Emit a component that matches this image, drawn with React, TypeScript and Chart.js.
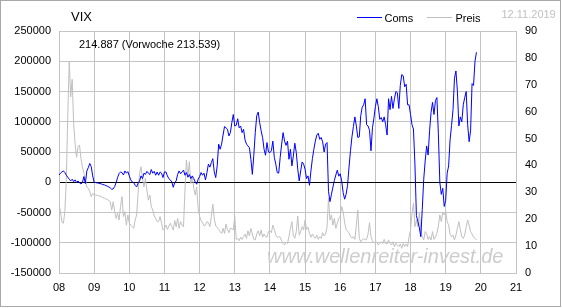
import React, { useEffect, useRef } from "react";
import { Chart, registerables } from "chart.js";

Chart.register(...registerables);

const FONT = '"Liberation Sans", Arial, sans-serif';

const years = [2008, 2009, 2010, 2011, 2012, 2013, 2014, 2015, 2016, 2017, 2018, 2019];
const stepsPerYear = 24;

const coms2008 = [11600, 14900, 17000, 18700, 16000, 11600, 8300, 5000, 2200, 5000, 1100, 3900, -500, 2200, -1100, -2800, -500, 9400, -2200, 18700, 24000, 31000, 26000, 10500];
const coms2009 = [0, -500, -1100, -1600, -2200, -2800, -3900, -4400, -5500, -6600, -7700, -9400, -11600, -11000, -7200, -500, 7700, 14300, 17000, 16000, 12000, 18700, 15000, 17600];
const coms2010 = [10500, 3900, 500, -500, -5000, -7700, -1600, 2200, 10500, 6000, 15000, 13000, 18000, 15000, 12700, 21000, 15000, 18000, 11600, 17000, 11600, 17000, 15000, 7700];
const coms2011 = [17000, 17000, 10500, 6000, 3900, 500, -8300, -500, 2200, 13000, 18700, 14000, 17000, 20000, 11600, 16000, 8300, 12700, 6000, 10500, 6000, 500, -3300, 5000];
const coms2012 = [9400, 16000, 11600, 15000, 3900, 16000, 30000, 25000, 32500, 39000, 17000, 7700, 27000, 63000, 54500, 63000, 78000, 92000, 90000, 87600, 76600, 82000, 98600, 112000];
const coms2013 = [93000, 94000, 105000, 90000, 93000, 82000, 87600, 70000, 63000, 60000, 57000, 38000, 13000, 44600, 82000, 110000, 116000, 98600, 85000, 74000, 54500, 44600, 65600, 50000];
const coms2014 = [49000, 52000, 68000, 41000, 30000, 16000, 15000, 41000, 63000, 82000, 68000, 61000, 68000, 38000, 54500, 27000, 43500, 64500, 49000, 21500, 2200, 18700, 33600, 30000];
const coms2015 = [21500, 6000, 10500, -5000, 18700, 39000, 54500, 68000, 78000, 81000, 71000, 74000, 66700, 50000, 63000, 65600, -15000, -32000, -20000, -8000, 3000, 12000, 20000, 10000];
const coms2016 = [14000, 2000, -17000, -28000, -20000, -5000, 25000, 52000, 75000, 92000, 108000, 93000, 74000, 75000, 110000, 124000, 128000, 138000, 95000, 93000, 86000, 52000, 90000, 106000];
const coms2017 = [125000, 138000, 125000, 104000, 107000, 100000, 108000, 95000, 78000, 138000, 120000, 142000, 122000, 138000, 150000, 148000, 122000, 160000, 178000, 176000, 158000, 162000, 128000, 128000];
const coms2018 = [112000, 95000, 88000, 30000, -55000, -65000, -75000, -90000, -45000, 5000, 35000, 60000, 45000, 85000, 115000, 132000, 112000, 135000, 140000, 80000, 0, -20000, -10000, -40000];
const coms2019 = [-30000, 15000, 27000, 70000, 94000, 120000, 172000, 184000, 150000, 93000, 108000, 100000, 128000, 140000, 150000, 95000, 67000, 85000, 163000, 160000, 200000, 214887];

const preis2008 = [25.9, 22.8, 19, 18.5, 22.8, 34.6, 59, 78.5, 65.5, 72, 55.6, 48, 43, 47, 47.6, 42.6, 39.5, 37, 34.6, 32, 31.5, 30.2, 28.4, 29.6];
const preis2009 = [29, 29, 28.9, 28.7, 28.6, 28.4, 28, 27.8, 27.5, 27.4, 26.9, 26.5, 23.4, 26.5, 22.8, 20.3, 22.2, 19.7, 24.7, 28.4, 21, 22.8, 17.8, 21.6];
const preis2010 = [18.5, 17.8, 17.2, 16.6, 19.7, 21.6, 29.6, 37, 39.5, 35.2, 32, 35.2, 30.9, 27.1, 29, 24.7, 23.4, 21.2, 20.3, 19.1, 19.1, 21, 18.5, 16];
const preis2011 = [16.6, 17.8, 16.2, 17.5, 18.5, 17.2, 16, 19.5, 17.2, 20.3, 16.6, 19.1, 17.8, 17.2, 30.9, 42, 35.8, 41.4, 33.3, 35.8, 31.5, 29, 32, 24];
const preis2012 = [21, 19.5, 18.7, 17.5, 17.8, 19.1, 18.7, 17.2, 21, 25.6, 20.3, 17.5, 17, 16.2, 15.4, 14.7, 16.6, 14.7, 18.2, 16.2, 15, 16.6, 16.6, 16];
const preis2013 = [21, 12.5, 12.9, 12, 13.3, 12.5, 13.5, 14.5, 12.9, 15.7, 13.8, 16.6, 14.5, 12.5, 12.3, 14.5, 15.7, 13.8, 16, 13.3, 14.5, 13.5, 13.3, 15.4];
const preis2014 = [15.7, 15, 17.8, 16.2, 14.1, 13.3, 13.5, 13.3, 12, 11, 10.4, 11.5, 11, 13.5, 16.6, 19.1, 13.8, 12.9, 15.4, 21.2, 14.1, 15.4, 17.2, 16];
const preis2015 = [19.7, 16.2, 17, 14.7, 13.3, 14.5, 13.5, 12.9, 14.1, 12.5, 13.5, 12.9, 15, 13.8, 14.5, 17.2, 27.8, 19.7, 21.6, 17.8, 20.3, 16.6, 18.5, 20.3];
const preis2016 = [21, 24.7, 22.8, 18.7, 16.2, 15.5, 15, 13.5, 13, 13.5, 12.5, 17.8, 23.4, 12.9, 11.6, 12.3, 12.9, 12.3, 12.5, 14.5, 18.7, 13.5, 12, 11.3];
const preis2017 = [11.3, 11.5, 10.4, 11, 11.6, 11, 12.5, 11, 10.8, 12.3, 11, 10.4, 11.6, 9.8, 11, 10.4, 9.8, 10.8, 9.2, 11, 9.8, 10.8, 9.8, 13.5];
const preis2018 = [16, 22.2, 25.9, 17.2, 19.7, 17.2, 22.4, 16, 13.5, 12.3, 15.4, 14.7, 12.5, 13.5, 12.3, 15.4, 12.5, 13.3, 14.7, 17.5, 21.6, 19.1, 22.4, 21.6];
const preis2019 = [22.8, 19.1, 17.8, 14.5, 13.5, 14.1, 12.3, 14.1, 16.6, 19.1, 16.2, 13.5, 12.9, 14.1, 17.2, 19.7, 17.8, 15.4, 14.5, 13.3, 12.9, 12.3];

const comsByYear = [coms2008, coms2009, coms2010, coms2011, coms2012, coms2013, coms2014, coms2015, coms2016, coms2017, coms2018, coms2019];
const preisByYear = [preis2008, preis2009, preis2010, preis2011, preis2012, preis2013, preis2014, preis2015, preis2016, preis2017, preis2018, preis2019];

const leftTicks = { min: -150000, max: 250000, step: 50000 };
const rightTicks = { min: 0, max: 90, step: 10 };
const xRange = { min: 2008, max: 2021 };

const titleText = "VIX";
const infoText = "214.887 (Vorwoche 213.539)";
const dateText = "12.11.2019";
const watermarkText = "www.wellenreiter-invest.de";
const seriesNames = ["Coms", "Preis"];

function toPoints(byYear: number[][]) {
  const pts: { x: number; y: number }[] = [];
  byYear.forEach((arr, i) => {
    arr.forEach((v, k) => pts.push({ x: years[i] + k / stepsPerYear, y: v }));
  });
  return pts;
}

const GRID = "#c4c4c4";
const BLUE = "#0000ff";
const GRAY = "#c0c0c0";

const decor = {
  id: "decor",
  beforeDraw(chart: any) {
    const { ctx, width, height } = chart;
    ctx.save();
    ctx.fillStyle = "#ffffff";
    ctx.fillRect(0, 0, width, height);
    ctx.restore();
  },
  beforeDatasetsDraw(chart: any) {
    const { ctx } = chart;
    ctx.save();
    ctx.font = `italic 20px ${FONT}`;
    ctx.fillStyle = "#cccccc";
    ctx.textBaseline = "alphabetic";
    ctx.textAlign = "left";
    ctx.fillText(watermarkText, 267, 263);
    ctx.restore();
  },
  afterDraw(chart: any) {
    const { ctx, width, height } = chart;
    ctx.save();
    ctx.strokeStyle = "#a8a8a8";
    ctx.lineWidth = 1;
    ctx.strokeRect(0.5, 0.5, width - 2, height - 2);

    ctx.textBaseline = "alphabetic";
    ctx.textAlign = "left";
    ctx.fillStyle = "#000";
    ctx.font = `13px ${FONT}`;
    ctx.fillText(titleText, 71, 21);
    ctx.font = `11px ${FONT}`;
    ctx.fillText(infoText, 79, 48);

    // legend
    ctx.lineWidth = 1;
    ctx.strokeStyle = BLUE;
    ctx.beginPath();
    ctx.moveTo(357, 17.5);
    ctx.lineTo(382, 17.5);
    ctx.stroke();
    ctx.fillStyle = "#000";
    ctx.fillText(seriesNames[0], 384.5, 21.5);
    ctx.strokeStyle = GRAY;
    ctx.beginPath();
    ctx.moveTo(427, 17.5);
    ctx.lineTo(452, 17.5);
    ctx.stroke();
    ctx.fillText(seriesNames[1], 455.5, 21.5);

    ctx.fillStyle = "#c0c0c0";
    ctx.fillText(dateText, 501.5, 17.5);
    ctx.restore();
  },
};

export default function App() {
  const ref = useRef<HTMLCanvasElement | null>(null);
  useEffect(() => {
    if (!ref.current) return;
    const chart = new Chart(ref.current, {
      type: "line",
      data: {
        datasets: [
          {
            label: seriesNames[0],
            data: toPoints(comsByYear),
            borderColor: BLUE,
            borderWidth: 1,
            pointRadius: 0,
            tension: 0,
            yAxisID: "y",
            order: 0,
          },
          {
            label: seriesNames[1],
            data: toPoints(preisByYear),
            borderColor: GRAY,
            borderWidth: 1,
            pointRadius: 0,
            tension: 0,
            yAxisID: "y1",
            order: 1,
          },
        ],
      },
      options: {
        animation: false,
        responsive: false,
        devicePixelRatio: 1,
        parsing: false as any,
        layout: { padding: { top: 31, left: 0, right: 0, bottom: 0 } },
        plugins: { legend: { display: false }, tooltip: { enabled: false }, title: { display: false } },
        scales: {
          x: {
            type: "linear",
            min: xRange.min,
            max: xRange.max,
            afterFit: (s: any) => { s.height = 35; },
            grid: { color: GRID, drawTicks: false, lineWidth: 1 },
            border: { color: GRID },
            ticks: {
              stepSize: 1,
              autoSkip: false,
              maxRotation: 0,
              padding: 8,
              color: "#000",
              font: { family: FONT, size: 11 },
              callback: (v: any) => String(Math.round(v) % 100).padStart(2, "0"),
            },
          },
          y: {
            position: "left",
            min: leftTicks.min,
            max: leftTicks.max,
            afterFit: (s: any) => { s.width = 59; },
            grid: {
              drawTicks: false,
              color: (c: any) => (c.tick && c.tick.value === 0 ? "#000000" : GRID),
            },
            border: { color: GRID },
            ticks: {
              stepSize: leftTicks.step,
              padding: 8,
              color: "#000",
              font: { family: FONT, size: 11 },
              callback: (v: any) => String(v),
            },
          },
          y1: {
            position: "right",
            min: rightTicks.min,
            max: rightTicks.max,
            afterFit: (s: any) => { s.width = 46; },
            grid: { display: false, drawTicks: false },
            border: { display: false },
            ticks: {
              stepSize: rightTicks.step,
              padding: 9,
              color: "#000",
              font: { family: FONT, size: 11 },
              callback: (v: any) => String(v),
            },
          },
        },
      },
      plugins: [decor],
    } as any);
    return () => chart.destroy();
  }, []);
  return (
    <div style={{ position: "absolute", left: 0, top: 0, width: 562, height: 308 }}>
      <canvas ref={ref} width={562} height={308} style={{ display: "block" }} />
    </div>
  );
}
